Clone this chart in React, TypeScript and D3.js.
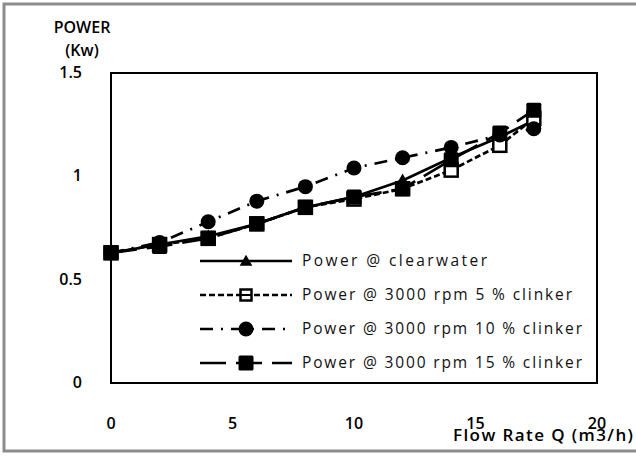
import React, { useRef, useEffect } from "react";
import * as d3 from "d3";

const flowRate = [0, 2, 4, 6, 8, 10, 12, 14, 16, 17.4];
const clearWater = [0.63, 0.67, 0.71, 0.77, 0.85, 0.9, 0.98, 1.09, 1.19, 1.27];
const clinker5 = [0.63, 0.67, 0.7, 0.77, 0.85, 0.89, 0.94, 1.03, 1.15, 1.28];
const clinker10 = [0.63, 0.68, 0.78, 0.88, 0.95, 1.04, 1.09, 1.14, 1.2, 1.23];
const clinker15 = [0.63, 0.66, 0.7, 0.77, 0.85, 0.9, 0.94, 1.08, 1.21, 1.32];

const xTicks = [0, 5, 10, 15, 20];
const yTicks = [0, 0.5, 1, 1.5];

const seriesNames = [
  "Power @ clearwater",
  "Power @ 3000 rpm 5 % clinker",
  "Power @ 3000 rpm 10 % clinker",
  "Power @ 3000 rpm 15 % clinker",
];
// rendered widths of the legend labels in the reference
const legendWidths = [185, 270, 280, 280];

const App = () => {
  const plot = useRef<SVGSVGElement>(null);

  const width = 636;
  const height = 456;
  const left = 111, right = 597, top = 73, bottom = 383;

  useEffect(() => {
    const svg = d3.select(plot.current);
    svg.selectAll("*").remove();
    const font = "'Open Sans', 'DejaVu Sans', sans-serif";

    const x = d3.scaleLinear().domain([0, 20]).range([left, right]);
    const y = d3.scaleLinear().domain([0, 1.5]).range([bottom, top]);

    // outer frame
    svg.append("rect")
      .attr("x", 4).attr("y", 4)
      .attr("width", 640).attr("height", 447)
      .attr("fill", "white")
      .attr("stroke", "#8c8c8c")
      .attr("stroke-width", 3);

    // plot box
    svg.append("rect")
      .attr("x", left).attr("y", top)
      .attr("width", right - left).attr("height", bottom - top)
      .attr("fill", "none")
      .attr("stroke", "black")
      .attr("stroke-width", 2);

    const series = [
      { values: clearWater, dash: null, marker: "triangle" },
      { values: clinker5, dash: "6,3", marker: "open" },
      { values: clinker10, dash: "13,8,2,8", marker: "circle" },
      { values: clinker15, dash: "26,10", marker: "square" },
    ];

    const line = d3.line<number>()
      .x((d, i) => x(flowRate[i]))
      .y(d => y(d));

    const drawMarker = (g: any, kind: string, cx: number, cy: number, legend: boolean) => {
      if (kind === "triangle") {
        g.append("path")
          .attr("transform", `translate(${cx},${cy + 1})`)
          .attr("d", d3.symbol().type(d3.symbolTriangle).size(legend ? 70 : 80)())
          .attr("fill", "black");
      } else if (kind === "open") {
        const s = legend ? 11 : 13;
        g.append("rect")
          .attr("x", cx - s / 2).attr("y", cy - s / 2)
          .attr("width", s).attr("height", s)
          .attr("fill", "white").attr("stroke", "black").attr("stroke-width", 2.5);
        if (legend) {
          g.append("line")
            .attr("x1", cx - s / 2).attr("x2", cx + s / 2)
            .attr("y1", cy).attr("y2", cy)
            .attr("stroke", "black").attr("stroke-width", 2);
        }
      } else if (kind === "circle") {
        g.append("circle")
          .attr("cx", cx).attr("cy", cy).attr("r", 7.5)
          .attr("fill", "black");
      } else {
        const s = 15;
        g.append("rect")
          .attr("x", cx - s / 2).attr("y", cy - s / 2)
          .attr("width", s).attr("height", s).attr("rx", 1.5)
          .attr("fill", "black");
      }
    };

    const lines = svg.append("g");
    series.forEach(s => {
      lines.append("path")
        .attr("d", line(s.values))
        .attr("fill", "none")
        .attr("stroke", "black")
        .attr("stroke-width", 2.7)
        .attr("stroke-dasharray", s.dash);
    });
    series.forEach(s => {
      const g = svg.append("g");
      s.values.forEach((v, i) => drawMarker(g, s.marker, x(flowRate[i]), y(v), false));
    });

    // legend
    const legend = svg.append("g");
    series.forEach((s, i) => {
      const ly = 261 + i * 34;
      legend.append("line")
        .attr("x1", 200).attr("x2", 292)
        .attr("y1", ly).attr("y2", ly)
        .attr("stroke", "black")
        .attr("stroke-width", 2.7)
        .attr("stroke-dasharray", s.dash);
      drawMarker(legend, s.marker, 246, ly, true);
      legend.append("text")
        .attr("x", 302).attr("y", ly + 5)
        .attr("font-family", font)
        .attr("font-size", 15.5)
        .attr("fill", "#111")
        .attr("textLength", legendWidths[i])
        .attr("lengthAdjust", "spacing")
        .text(seriesNames[i]);
    });

    // y ticks
    svg.append("g").selectAll("text")
      .data(yTicks)
      .join("text")
      .attr("x", 82)
      .attr("y", d => y(d) + 5)
      .attr("text-anchor", "end")
      .attr("font-family", font)
      .attr("font-size", 16)
      .attr("font-weight", 600)
      .text(d => String(d));

    // x ticks
    svg.append("g").selectAll("text")
      .data(xTicks)
      .join("text")
      .attr("x", d => x(d))
      .attr("y", 429)
      .attr("text-anchor", "middle")
      .attr("font-family", font)
      .attr("font-size", 16)
      .attr("font-weight", 600)
      .text(d => String(d));

    // axis titles
    svg.append("text")
      .attr("x", 82).attr("y", 33)
      .attr("text-anchor", "middle")
      .attr("font-family", font).attr("font-size", 16).attr("font-weight", 600)
      .text("POWER");
    svg.append("text")
      .attr("x", 82).attr("y", 56)
      .attr("text-anchor", "middle")
      .attr("font-family", font).attr("font-size", 16).attr("font-weight", 600)
      .text("(Kw)");
    svg.append("text")
      .attr("x", 453).attr("y", 441)
      .attr("font-family", font).attr("font-size", 17).attr("font-weight", 600)
      .attr("textLength", 180)
      .attr("lengthAdjust", "spacing")
      .text("Flow Rate Q (m3/h)");
  });

  return (
    <svg ref={plot} width={width} height={height}
      style={{ position: "absolute", left: 0, top: 0, background: "white" }} />
  );
};

export default App;
